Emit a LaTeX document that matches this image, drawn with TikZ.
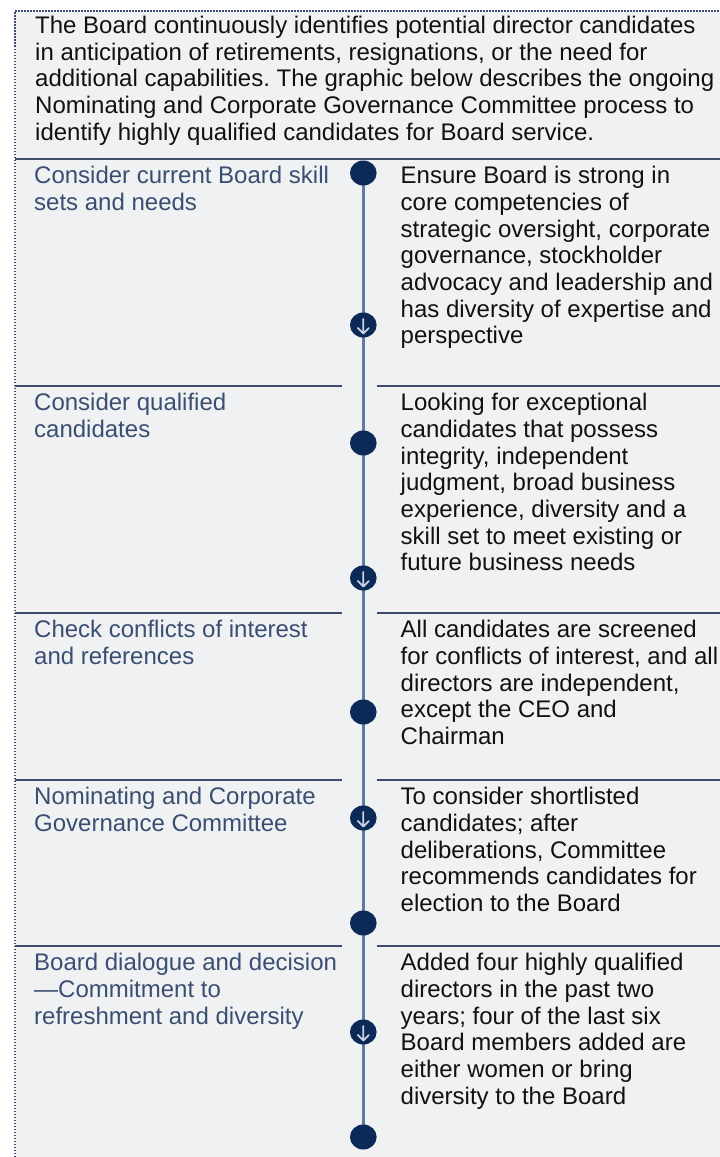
\documentclass[tikz,border=0pt]{standalone}
\usepackage{fontspec}
\usetikzlibrary{shapes.geometric}
\setmainfont{Liberation Sans}
\frenchspacing
\definecolor{bgc}{HTML}{F0F1F3}
\definecolor{navy}{HTML}{0C2A57}
\definecolor{sepc}{HTML}{3B4C6E}
\definecolor{lblc}{HTML}{3A4E72}
\definecolor{linec}{HTML}{5F7AA0}
\definecolor{txtc}{HTML}{111111}
\definecolor{arrc}{HTML}{C9D3E2}
\begin{document}
\begin{tikzpicture}[x=1pt,y=-1pt,
  txt/.style={anchor=north west, inner sep=0pt, align=left, text=txtc,
    font=\fontsize{24}{26.7}\selectfont},
  lbl/.style={txt, text=lblc},
  sepline/.style={draw=sepc, line width=2pt},
  border/.style={draw=sepc, line width=2.2pt, dash pattern=on 1.5pt off 1.5pt},
  timeline/.style={draw=linec, line width=3.5pt},
  dot/.style={ellipse, fill=navy, minimum width=26.7pt, minimum height=25pt, inner sep=0pt},
  arrowdot/.style={dot, path picture={
    \draw[arrc, line width=1.8pt, line cap=round, line join=round]
      ([yshift=6pt]path picture bounding box.center) -- ([yshift=-8.5pt]path picture bounding box.center)
      ([xshift=-5.5pt,yshift=-3pt]path picture bounding box.center) -- ([yshift=-8.5pt]path picture bounding box.center)
      -- ([xshift=5.5pt,yshift=-3pt]path picture bounding box.center);}}
]
\useasboundingbox (0,0) rectangle (720,1157);
\fill[bgc] (15,11) rectangle (720,1157);
\draw[border] (15,1157) -- (15,11) -- (720,11);

% intro
\node[txt] (intro) at (35,{33.3-19}) {\rule{0pt}{19pt}The Board continuously identifies potential director candidates\\
in anticipation of retirements, resignations, or the need for\\
additional capabilities. The graphic below describes the ongoing\\
Nominating and Corporate Governance Committee process to\\
identify highly qualified candidates for Board service.};

% separators
\draw[sepline] (15,159) -- (720,159);
\foreach \y in {386,613,780,946}{
  \draw[sepline] (15,\y) -- (342,\y);
  \draw[sepline] (377,\y) -- (720,\y);
}

% timeline
\coordinate (ttop) at (363.3,173);
\coordinate (tbot) at (363.3,1137);
\draw[timeline] (ttop) -- (tbot);
\node[dot] (d1) at (ttop) {};
\node[arrowdot] (a1) at (363.3,325) {};
\node[dot] (d2) at (363.3,443) {};
\node[arrowdot] (a2) at (363.3,578) {};
\node[dot] (d3) at (363.3,712) {};
\node[arrowdot] (a3) at (363.3,818) {};
\node[dot] (d4) at (363.3,923) {};
\node[arrowdot] (a4) at (363.3,1032) {};
\node[dot] (d5) at (tbot) {};

% left labels
\node[lbl] (l1) at (34,{183.5-19}) {\rule{0pt}{19pt}Consider current Board skill\\sets and needs};
\node[lbl] (l2) at (34,{410.5-19}) {\rule{0pt}{19pt}Consider qualified\\candidates};
\node[lbl] (l3) at (34,{637.5-19}) {\rule{0pt}{19pt}Check conflicts of interest\\and references};
\node[lbl] (l4) at (34,{804.5-19}) {\rule{0pt}{19pt}Nominating and Corporate\\Governance Committee};
\node[lbl] (l5) at (34,{970.5-19}) {\rule{0pt}{19pt}Board dialogue and decision\\—Commitment to\\refreshment and diversity};

% right texts
\node[txt] (r1) at (400.5,{183.5-19}) {\rule{0pt}{19pt}Ensure Board is strong in\\core competencies of\\strategic oversight, corporate\\governance, stockholder\\advocacy and leadership and\\has diversity of expertise and\\perspective};
\node[txt] (r2) at (400.5,{410.5-19}) {\rule{0pt}{19pt}Looking for exceptional\\candidates that possess\\integrity, independent\\judgment, broad business\\experience, diversity and a\\skill set to meet existing or\\future business needs};
\node[txt] (r3) at (400.5,{637.5-19}) {\rule{0pt}{19pt}All candidates are screened\\for conflicts of interest, and all\\directors are independent,\\except the CEO and\\Chairman};
\node[txt] (r4) at (400.5,{804.5-19}) {\rule{0pt}{19pt}To consider shortlisted\\candidates; after\\deliberations, Committee\\recommends candidates for\\election to the Board};
\node[txt] (r5) at (400.5,{970.5-19}) {\rule{0pt}{19pt}Added four highly qualified\\directors in the past two\\years; four of the last six\\Board members added are\\either women or bring\\diversity to the Board};
\end{tikzpicture}
\end{document}
